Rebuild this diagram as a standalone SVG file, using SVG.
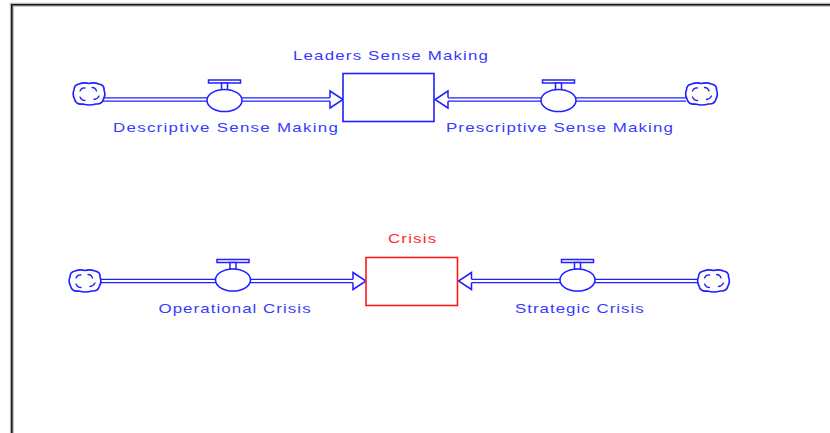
<svg xmlns="http://www.w3.org/2000/svg" width="830" height="433" viewBox="0 0 830 433">
  <style>
    .frame-halo { fill: none; stroke: #b8b8b8; stroke-width: 4; }
    .frame { fill: none; stroke: #1a1a1a; stroke-width: 1.6; }
    .pipe-outer { stroke: #1f1fff; stroke-width: 4.6; fill: none; }
    .pipe-inner { stroke: #ffffff; stroke-width: 1.8; fill: none; }
    .head { fill: #ffffff; stroke: #1f1fff; stroke-width: 1.5; stroke-linejoin: miter; }
    .valve { fill: #ffffff; stroke: #1f1fff; stroke-width: 1.5; }
    .cloud { fill: #ffffff; stroke: #1f1fff; stroke-width: 1.6; }
    .curl { fill: none; stroke: #1f1fff; stroke-width: 1.3; stroke-linecap: round; }
    .stock-blue { fill: #ffffff; stroke: #1f1fff; stroke-width: 1.6; }
    .stock-red { fill: #ffffff; stroke: #ff1a1a; stroke-width: 1.6; }
    .lbl { font-family: "Liberation Sans", Arial, sans-serif; font-size: 13px; fill: #3a3aff; }
    .lbl-red { font-family: "Liberation Sans", Arial, sans-serif; font-size: 13px; fill: #ff2a2a; }
  </style>
  <defs>
    <g id="cloudShape">
      <path class="cloud" d="M-10,-10 Q-5,-12 0,-10.5 Q5,-12 10,-10 Q15.5,-9 15,-4 Q17,0.5 14.5,5 Q13,10.5 7,10 Q0,12 -6,10 Q-13,11 -14.5,5 Q-17,0 -15,-4 Q-15,-9 -10,-10 Z"/>
      <path class="curl" d="M-9,-3 q1.5,-3.5 5,-3 M3,-6.5 q3.5,0 4.5,3.5 M-9,3 q1.5,3.5 5,3.5 M5,5.5 q3.5,-0.5 5,-3.5"/>
    </g>
    <g id="valveShape">
      <rect class="valve" x="-16" y="-20.5" width="32" height="3"/>
      <rect class="valve" x="-3" y="-17.5" width="6" height="7"/>
      <ellipse class="valve" cx="0" cy="0" rx="17.5" ry="11"/>
    </g>
  </defs>

  <rect width="830" height="433" fill="#ffffff"/>
  <path class="frame-halo" d="M11.8,433 V4.8 H830"/>
  <path class="frame" d="M11.8,433 V4.8 H830"/>

  <!-- flow pipes and arrowheads -->
  <g id="connectors">
    <!-- Descriptive Sense Making -->
    <path class="pipe-outer" d="M103,99.5 H331"/>
    <path class="pipe-inner" d="M103,99.5 H332"/>
    <path class="head" d="M330,97.7 V91 L343,99.5 L330,108 V101.3"/>
    <!-- Prescriptive Sense Making -->
    <path class="pipe-outer" d="M447,99.5 H686"/>
    <path class="pipe-inner" d="M446,99.5 H686"/>
    <path class="head" d="M448,97.7 V91 L435,99.5 L448,108 V101.3"/>
    <!-- Operational Crisis -->
    <path class="pipe-outer" d="M99,281 H354"/>
    <path class="pipe-inner" d="M99,281 H355"/>
    <path class="head" d="M353,279.2 V272.5 L366,281 L353,289.5 V282.8"/>
    <!-- Strategic Crisis -->
    <path class="pipe-outer" d="M470,281 H699"/>
    <path class="pipe-inner" d="M469,281 H699"/>
    <path class="head" d="M471.5,279.2 V272.5 L458.5,281 L471.5,289.5 V282.8"/>
  </g>

  <!-- stocks -->
  <g id="leaders-sense-making">
    <rect class="stock-blue" x="343" y="73.5" width="91" height="48"/>
    <text class="lbl" transform="translate(293,60) scale(1.3,1)" textLength="150" lengthAdjust="spacing">Leaders Sense Making</text>
  </g>
  <g id="crisis">
    <rect class="stock-red" x="366" y="257.5" width="91.5" height="48"/>
    <text class="lbl-red" transform="translate(388,243) scale(1.3,1)" textLength="37" lengthAdjust="spacing">Crisis</text>
  </g>

  <!-- sources / sinks -->
  <g id="cloud-descriptive"><use href="#cloudShape" x="89" y="94"/></g>
  <g id="cloud-prescriptive"><use href="#cloudShape" x="701.5" y="94"/></g>
  <g id="cloud-operational"><use href="#cloudShape" x="85" y="281"/></g>
  <g id="cloud-strategic"><use href="#cloudShape" x="713.5" y="281"/></g>

  <!-- flows -->
  <g id="descriptive-sense-making">
    <use href="#valveShape" x="224.5" y="100.5"/>
    <text class="lbl" transform="translate(113,131.5) scale(1.3,1)" textLength="173" lengthAdjust="spacing">Descriptive Sense Making</text>
  </g>
  <g id="prescriptive-sense-making">
    <use href="#valveShape" x="558.5" y="100.5"/>
    <text class="lbl" transform="translate(446,131.5) scale(1.3,1)" textLength="174.5" lengthAdjust="spacing">Prescriptive Sense Making</text>
  </g>
  <g id="operational-crisis">
    <use href="#valveShape" x="233" y="280"/>
    <text class="lbl" transform="translate(158.5,313) scale(1.3,1)" textLength="117" lengthAdjust="spacing">Operational Crisis</text>
  </g>
  <g id="strategic-crisis">
    <use href="#valveShape" x="577.5" y="280"/>
    <text class="lbl" transform="translate(515,313) scale(1.3,1)" textLength="99" lengthAdjust="spacing">Strategic Crisis</text>
  </g>
</svg>
